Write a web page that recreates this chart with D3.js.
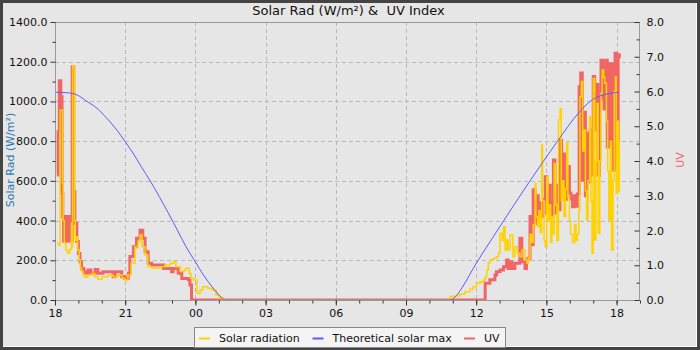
<!DOCTYPE html>
<html><head><meta charset="utf-8">
<script src="https://cdn.jsdelivr.net/npm/d3@7"></script>
<style>
body{margin:0;background:#fff;}
svg{display:block;font-family:"DejaVu Sans",sans-serif;}
</style>
</head><body>
<svg id="chart" width="700" height="350"></svg>
<script>
// ---- data (minutes after 18:00 on day 1) ----
const solarMin = [5,10,13,19,21,24,28,33,38,42,44,45,50,52,55,58,62,65,68,72,76,84,95,102,110,121,136,149,162,172,179,187,195,205,213,218,223,231,238,249,269,282,295,303,310,321,331,336,344,349,356,364,372,379,392,403,413,421,431,1005,1013,1026,1038,1051,1064,1072,1081,1090,1098,1103,1107,1111,1115,1124,1132,1137,1141,1146,1150,1154,1158,1162,1167,1174,1179,1185,1192,1197,1205,1210,1214,1218,1222,1226,1231,1233,1237,1241,1244,1248,1250,1254,1257,1261,1264,1267,1271,1274,1278,1280,1284,1287,1291,1295,1298,1302,1305,1309,1312,1315,1319,1322,1327,1332,1336,1339,1343,1346,1350,1353,1356,1360,1363,1367,1371,1374,1377,1380,1384,1387,1390,1393,1397,1400,1403,1407,1410,1414,1417,1420,1424,1427,1431,1434,1437,1439,1443,1445,1447];
const solarVal = [285,275,957,589,400,287,250,236,255,386,268,1178,400,300,319,252,200,160,143,126,114,126,134,117,104,117,126,117,126,109,101,126,185,268,294,327,268,227,168,160,168,176,185,193,168,143,151,160,134,109,101,34,50,67,59,50,25,13,0,0,17,22,30,42,54,67,84,92,101,117,151,185,201,210,218,235,336,300,369,252,302,252,327,218,268,235,218,252,201,185,210,330,290,380,588,420,370,450,340,781,500,300,268,620,400,480,290,420,330,688,480,300,906,965,500,600,420,560,789,520,400,330,290,380,300,330,453,1024,1100,750,856,550,403,600,923,500,235,1116,302,700,990,336,700,1040,1158,1120,1091,900,650,403,800,252,600,1050,1124,537,900,550,800];

const uvMin = [5,8,11,15,18,20,22,24,26,28,30,32,34,36,38,40,42,44,48,49,51,56,60,64,68,74,79,85,92,103,110,123,149,154,167,171,179,188,192,201,209,218,225,231,239,248,273,278,299,303,316,325,342,346,350,1103,1115,1128,1132,1141,1150,1158,1162,1167,1171,1179,1188,1192,1197,1205,1209,1213,1218,1222,1226,1231,1235,1239,1244,1248,1252,1257,1261,1265,1270,1274,1278,1282,1286,1290,1295,1299,1303,1307,1311,1315,1319,1323,1327,1331,1335,1339,1344,1348,1352,1356,1360,1364,1368,1372,1376,1380,1384,1388,1392,1396,1400,1404,1408,1412,1416,1420,1424,1428,1432,1436,1440,1444,1447];
const uvVal = [3.6,4.84,6.31,5.85,3.07,2.4,1.7,2.4,1.68,2.35,1.7,2.4,1.7,2.3,1.75,2.4,1.7,6.71,3.12,3.12,2.2,1.68,1.34,1.1,0.91,0.81,0.77,0.86,0.77,0.88,0.77,0.81,0.67,0.81,0.81,0.67,0.62,0.77,1.25,1.53,1.78,2.01,1.78,1.39,1.06,1.01,1.01,0.91,0.81,0.91,0.77,0.62,0.58,0.43,0,0.48,0.58,0.72,0.81,0.86,0.96,1.15,0.91,1.1,0.91,1.06,1.06,1.78,1.1,0.91,1.15,1.2,2.4,1.6,3.17,2.2,3.0,2.3,2.8,2.4,2.9,3.55,2.5,3.3,2.4,2.8,4.03,2.5,3.3,2.6,4.6,3.26,4.2,2.9,3.5,3.84,3.08,2.9,2.68,3.0,2.7,3.05,6.14,6.53,3.45,5.4,3.0,4.8,3.4,4.9,3.6,6.43,4.89,6.2,3.6,5.8,6.9,6.71,5.5,6.9,4.4,6.8,4.5,6.8,3.74,7.1,4.0,7.0,7.1];

const maxMin = [0,31,56,82,108,133,159,179,200,221,244,267,290,313,336,359,382,403,418,428,436,1013,1026,1038,1051,1064,1085,1121,1159,1218,1285,1346,1372,1423,1446];
const maxVal = [1046,1044,1033,1000,965,915,855,800,740,672,600,522,440,355,268,195,122,66,30,10,0,0,15,45,85,130,200,310,425,600,790,950,1000,1041,1046];

const leftTicks = [0,200,400,600,800,1000,1200,1400];
const rightTicks = [0,1,2,3,4,5,6,7,8];
const seriesNames = ["Solar radiation","Theoretical solar max","UV"];
const seriesColors = ["#ffd200","#5c5cff","#f26565"];

// ---- layout ----
const W = 700, H = 350;
const L = 55, R = 640, T = 22, B = 300;
const start = new Date(2024,0,1,18,0,0);
const toDate = m => new Date(start.getTime() + m*60000);

const svg = d3.select("#chart");
svg.append("rect").attr("width",W).attr("height",H).attr("fill","#444");
svg.append("rect").attr("x",3).attr("y",3).attr("width",694).attr("height",344).attr("fill","#ffffff");
svg.append("rect").attr("x",3).attr("y",3).attr("width",693).attr("height",343).attr("fill","#e6e6e6");

const x = d3.scaleTime().domain([start, toDate(25*60)]).range([L,R]);
const yL = d3.scaleLinear().domain([0,1400]).range([B,T]);
const yR = d3.scaleLinear().domain([0,8]).range([B,T]);

// grid
const grid = svg.append("g").attr("stroke","#b9b9b9").attr("stroke-dasharray","4,3").attr("stroke-width",1);
x.ticks(d3.timeHour.every(3)).forEach(t=>{
  const px = Math.round(x(t))+0.5;
  if (px > L+2 && px < R-2) grid.append("line").attr("x1",px).attr("x2",px).attr("y1",T).attr("y2",B);
});
leftTicks.forEach(v=>{
  const py = Math.round(yL(v))+0.5;
  if (py > T+2 && py < B-2) grid.append("line").attr("x1",L).attr("x2",R).attr("y1",py).attr("y2",py);
});

// clip
svg.append("clipPath").attr("id","plotclip").append("rect").attr("x",L).attr("y",T).attr("width",R-L).attr("height",B-T);
const plot = svg.append("g").attr("clip-path","url(#plotclip)");

const uvData = uvMin.map((m,i)=>({t:toDate(m), v:uvVal[i]}));
const solarData = solarMin.map((m,i)=>({t:toDate(m), v:solarVal[i]}));
const maxData = maxMin.map((m,i)=>({t:toDate(m), v:maxVal[i]}));
plot.append("path").datum(uvData)
  .attr("fill","none").attr("stroke",seriesColors[2]).attr("stroke-width",3).attr("stroke-linejoin","miter")
  .attr("d", d3.line().x(d=>x(d.t)).y(d=>yR(d.v)).curve(d3.curveStepAfter));
plot.append("path").datum(solarData)
  .attr("fill","none").attr("stroke",seriesColors[0]).attr("stroke-width",1.5)
  .attr("d", d3.line().x(d=>x(d.t)).y(d=>yL(d.v)).curve(d3.curveStepAfter));
plot.append("path").datum(maxData)
  .attr("fill","none").attr("stroke",seriesColors[1]).attr("stroke-width",1)
  .attr("d", d3.line().x(d=>x(d.t)).y(d=>yL(d.v)).curve(d3.curveMonotoneX));

// frame
svg.append("rect").attr("x",L+0.5).attr("y",T+0.5).attr("width",R-L-1).attr("height",B-T)
  .attr("fill","none").attr("stroke","#999").attr("stroke-width",1);

const tickColor = "#333";
function styleAxis(g){
  g.select(".domain").remove();
  g.selectAll(".tick line").attr("stroke",tickColor);
  g.selectAll("text").attr("fill","#111").style("font-size","11px").style("font-family","DejaVu Sans");
}
// x axis
svg.append("g").attr("transform",`translate(0,${B+0.5})`)
  .call(d3.axisBottom(x).ticks(d3.timeHour.every(1)).tickSize(3).tickFormat(""))
  .call(styleAxis);
svg.append("g").attr("transform",`translate(0,${B+0.5})`)
  .call(d3.axisBottom(x).ticks(d3.timeHour.every(3)).tickSize(5).tickPadding(4).tickFormat(d3.timeFormat("%H")))
  .call(styleAxis);
// left axis
svg.append("g").attr("transform",`translate(${L+0.5},0)`)
  .call(d3.axisLeft(yL).tickValues(d3.range(100,1400,200)).tickSize(3).tickFormat(""))
  .call(styleAxis);
svg.append("g").attr("transform",`translate(${L+0.5},0)`)
  .call(d3.axisLeft(yL).tickValues(leftTicks).tickSize(5).tickPadding(3).tickFormat(d3.format(".1f")))
  .call(styleAxis);
// right axis (ticks inside)
svg.append("g").attr("transform",`translate(${R-0.5},0)`)
  .call(d3.axisRight(yR).tickValues(d3.range(0.5,8,1)).tickSizeInner(-3).tickSizeOuter(0).tickFormat(""))
  .call(styleAxis);
svg.append("g").attr("transform",`translate(${R-0.5},0)`)
  .call(d3.axisRight(yR).tickValues(rightTicks).tickSizeInner(-5).tickSizeOuter(0).tickPadding(7).tickFormat(d3.format(".1f")))
  .call(styleAxis);

// title
svg.append("text").attr("x",348.5).attr("y",15).attr("text-anchor","middle")
  .style("font-size","13px").style("white-space","pre").attr("fill","#111")
  .text("Solar Rad (W/m²) &  UV Index");
// axis titles
svg.append("text").attr("transform",`translate(14,160) rotate(-90)`).attr("text-anchor","middle")
  .style("font-size","11px").attr("fill","#2a78b0").text("Solar Rad (W/m²)");
svg.append("text").attr("transform",`translate(684,160) rotate(-90)`).attr("text-anchor","middle")
  .style("font-size","11px").attr("fill","#f26565").text("UV");

// legend
const lg = svg.append("g");
lg.append("rect").attr("x",194.5).attr("y",327.5).attr("width",311).attr("height",20)
  .attr("fill","#f4f4f4").attr("stroke","#888");
const legendX = [199, 312.5, 464];
seriesNames.forEach((n,i)=>{
  lg.append("line").attr("x1",legendX[i]).attr("x2",legendX[i]+11).attr("y1",338.5).attr("y2",338.5)
    .attr("stroke",seriesColors[i]).attr("stroke-width",2);
  lg.append("text").attr("x",legendX[i]+20).attr("y",342).style("font-size","11px").attr("fill","#111").text(n);
});
</script>
</body></html>
